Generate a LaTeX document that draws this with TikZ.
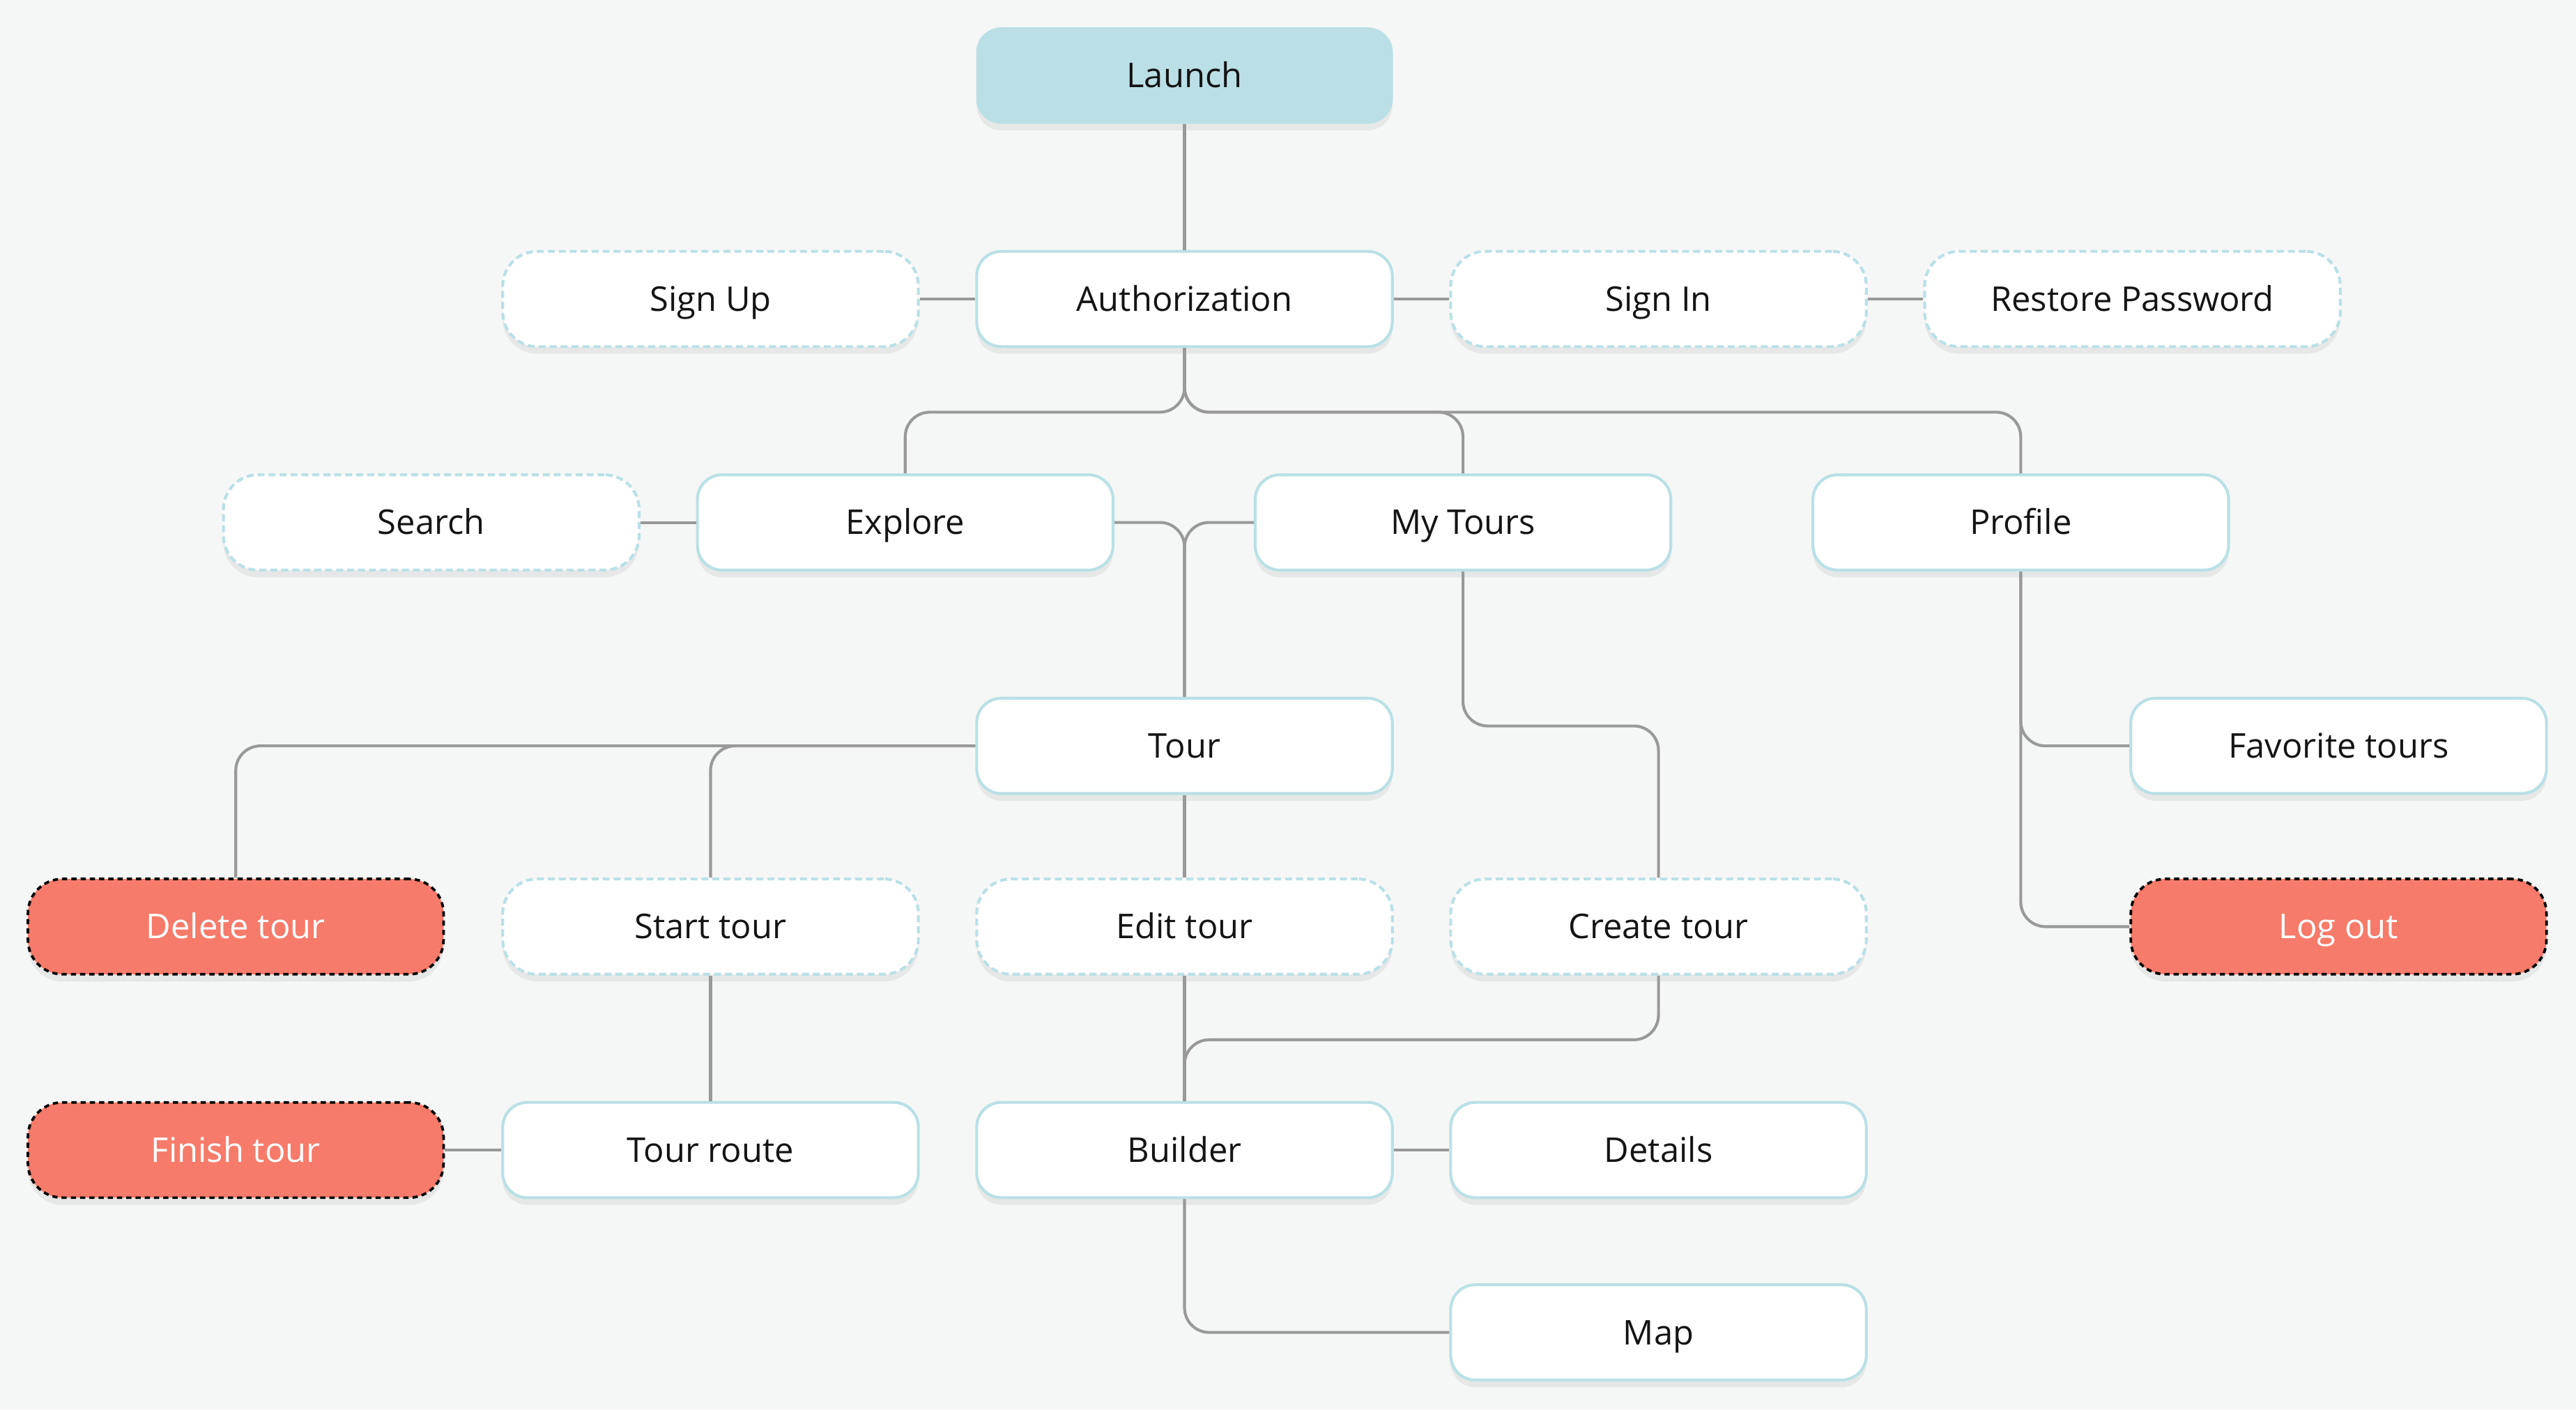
\documentclass[tikz,border=0pt]{standalone}
\usepackage{fontspec}
\setmainfont{Open Sans}
\usepackage{tikz}
\usepackage{xcolor}
\usetikzlibrary{shadows}

\definecolor{bgc}{HTML}{F5F7F6}
\definecolor{sky}{HTML}{BAE0E6}
\definecolor{coral}{HTML}{F77B6A}
\definecolor{wire}{HTML}{999999}

\begin{document}
\begin{tikzpicture}[font=\fontsize{11.8}{14}\selectfont]
      \useasboundingbox(0,0) rectangle (31.36,17.16);
      \fill[bgc](0,0) rectangle (31.36,17.16);
      \tikzset{N/.style = {shape=rectangle, minimum width=5.06cm, minimum height=1.16cm, inner sep=0pt,
          text height=8.4pt, text depth=0pt, text=black!92,
          drop shadow={shadow xshift=0pt, shadow yshift=-2.5pt, opacity=0.12}}}
      \tikzset{T/.style = {N, fill=sky, draw=sky, rounded corners=0.3cm}}
      \tikzset{S/.style = {N, fill=white, draw=sky, line width=1pt, rounded corners=0.3cm}}
      \tikzset{D/.style = {N, fill=white, draw=sky, line width=1pt, dash pattern=on 2.4pt off 1.4pt, rounded corners=0.42cm}}
      \tikzset{R/.style = {N, fill=coral, draw=black, line width=0.9pt, dash pattern=on 1.8pt off 1.4pt, rounded corners=0.42cm, text=white}}
      \tikzset{E/.style = {draw=wire, line width=1pt, rounded corners=0.3cm}}
      \node[T](launch) at (14.42,16.24) {Launch};
      \node[D](signup) at (8.65,13.52) {Sign Up};
      \node[S](auth) at (14.42,13.52) {Authorization};
      \node[D](signin) at (20.19,13.52) {Sign In};
      \node[D](restore) at (25.96,13.52) {Restore Password};
      \node[D](search) at (5.25,10.80) {Search};
      \node[S](explore) at (11.02,10.80) {Explore};
      \node[S](mytours) at (17.81,10.80) {My Tours};
      \node[S](profile) at (24.60,10.80) {Profile};
      \node[S](tour) at (14.42,8.08) {Tour};
      \node[S](fav) at (28.47,8.08) {Favorite tours};
      \node[R](delete) at (2.87,5.88) {Delete tour};
      \node[D](start) at (8.65,5.88) {Start tour};
      \node[D](edit) at (14.42,5.88) {Edit tour};
      \node[D](create) at (20.19,5.88) {Create tour};
      \node[R](logout) at (28.47,5.88) {Log out};
      \node[R](finish) at (2.87,3.16) {Finish tour};
      \node[S](route) at (8.65,3.16) {Tour route};
      \node[S](builder) at (14.42,3.16) {Builder};
      \node[S](details) at (20.19,3.16) {Details};
      \node[S](map) at (20.19,0.94) {Map};
      \draw[E](launch) to (auth);
      \draw[E](signup) to (auth);
      \draw[E](auth) to (signin);
      \draw[E](signin) to (restore);
      \draw[E](auth.south) -- ++(0,-0.78) -| (explore.north);
      \draw[E](auth.south) -- ++(0,-0.78) -| (mytours.north);
      \draw[E](auth.south) -- ++(0,-0.78) -| (profile.north);
      \draw[E](search) to (explore);
      \draw[E](explore.east) -| (tour.north);
      \draw[E](mytours.west) -| (tour.north);
      \draw[E](mytours.south) -- ++(0,-1.88) -| (create.north);
      \draw[E](profile.south) |- (fav.west);
      \draw[E](profile.south) |- (logout.west);
      \draw[E](tour.west) -| (start.north);
      \draw[E](tour.west) -| (delete.north);
      \draw[E](tour) to (edit);
      \draw[E](edit) to (builder);
      \draw[E](create.south) -- ++(0,-0.78) -| (builder.north);
      \draw[E](start) to (route);
      \draw[E](finish) to (route);
      \draw[E](builder) to (details);
      \draw[E](builder.south) |- (map.west);
    \end{tikzpicture}
\end{document}
